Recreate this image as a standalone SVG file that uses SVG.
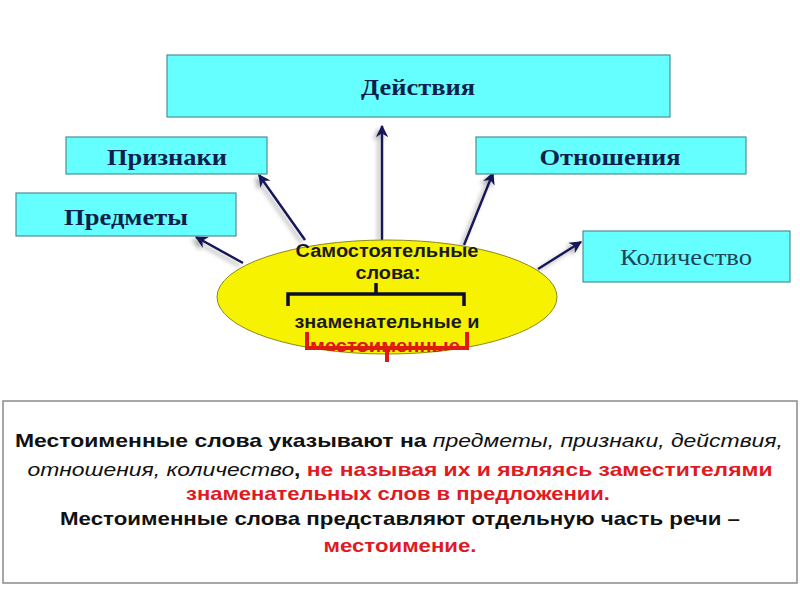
<svg xmlns="http://www.w3.org/2000/svg" width="800" height="600" viewBox="0 0 800 600">
<defs>
<style>
.box{fill:#66ffff;stroke:#4a8f96;stroke-width:1.2}
.lbl{font-family:"Liberation Serif","Times New Roman",serif;font-weight:bold;font-size:24px;fill:#0d1f4d;text-anchor:middle}
.lbl2{font-family:"Liberation Serif","Times New Roman",serif;font-size:23px;fill:#1f4558;text-anchor:middle}
.conn line{stroke:#14145a;stroke-width:2.5;marker-end:url(#ah)}
.et{font-family:"Liberation Sans",Arial,sans-serif;font-weight:bold;font-size:18px;fill:#1a1a1a;text-anchor:middle}
.bt{font-family:"Liberation Sans",Arial,sans-serif;font-weight:bold;font-size:19px;fill:#111;text-anchor:middle}
.red{fill:#e01a22}
.it{font-style:italic;font-weight:normal}
</style>
<marker id="ah" viewBox="0 0 10 10" refX="9" refY="5" markerWidth="5" markerHeight="5" orient="auto" markerUnits="strokeWidth">
<path d="M0,0 L10,5 L0,10 L3,5 Z" fill="#14145a"/>
</marker>
<filter id="sh" x="-50%" y="-50%" width="200%" height="200%">
<feDropShadow dx="-3" dy="3" stdDeviation="2" flood-color="#888" flood-opacity="0.7"/>
</filter>
<clipPath id="ec"><ellipse cx="387" cy="297" rx="170" ry="57"/></clipPath>
</defs>
<rect width="800" height="600" fill="#ffffff"/>

<g id="connectors" class="conn" filter="url(#sh)">
<line x1="382" y1="240" x2="382" y2="126"/>
<line x1="305" y1="240" x2="259" y2="175"/>
<line x1="464" y1="245" x2="493" y2="173"/>
<line x1="243" y1="263" x2="196" y2="237"/>
<line x1="538" y1="269" x2="581" y2="242"/>
</g>

<g id="n-deystviya">
<rect class="box" x="167" y="55" width="503" height="62"/>
<text class="lbl" x="418" y="95" textLength="114" lengthAdjust="spacingAndGlyphs">Действия</text>
</g>
<g id="n-priznaki">
<rect class="box" x="66" y="137" width="201" height="37"/>
<text class="lbl" x="167" y="165" textLength="120" lengthAdjust="spacingAndGlyphs">Признаки</text>
</g>
<g id="n-otnosheniya">
<rect class="box" x="476" y="137" width="270" height="37"/>
<text class="lbl" x="610" y="165" textLength="141" lengthAdjust="spacingAndGlyphs">Отношения</text>
</g>
<g id="n-predmety">
<rect class="box" x="16" y="193" width="220" height="43"/>
<text class="lbl" x="126" y="225" textLength="124" lengthAdjust="spacingAndGlyphs">Предметы</text>
</g>
<g id="n-kolichestvo">
<rect class="box" x="583" y="231" width="207" height="51"/>
<text class="lbl2" x="686" y="265" textLength="132" lengthAdjust="spacingAndGlyphs">Количество</text>
</g>

<g id="n-center">
<ellipse cx="387" cy="297" rx="170" ry="57" fill="#f7f200" stroke="#8c8a1a" stroke-width="1"/>
<text class="et" x="387" y="257" textLength="183" lengthAdjust="spacingAndGlyphs">Самостоятельные</text>
<text class="et" x="388" y="279" textLength="65" lengthAdjust="spacingAndGlyphs">слова:</text>
<path d="M288,306 V294 H464 V306 M376,294 V283" fill="none" stroke="#0d0d2a" stroke-width="3.5"/>
<text class="et" x="387" y="328" textLength="185" lengthAdjust="spacingAndGlyphs">знаменательные и</text>
<text class="et" x="385" y="352" style="fill:#d81a10" textLength="150" lengthAdjust="spacingAndGlyphs" clip-path="url(#ec)">местоименные</text>
<path d="M307,332 V348 H467 V332 M387,348 V362" fill="none" stroke="#e01a10" stroke-width="4"/>
</g>

<g id="n-note">
<rect x="3" y="401" width="794" height="182" fill="#ffffff" stroke="#8a8a8a" stroke-width="1.5"/>
<text class="bt" x="399" y="447" textLength="768" lengthAdjust="spacingAndGlyphs">Местоименные слова указывают на <tspan class="it">предметы, признаки, действия,</tspan></text>
<text class="bt" x="400" y="476" textLength="745" lengthAdjust="spacingAndGlyphs"><tspan class="it">отношения, количество</tspan>, <tspan class="red">не называя их и являясь заместителями</tspan></text>
<text class="bt red" x="398" y="500" textLength="424" lengthAdjust="spacingAndGlyphs">знаменательных слов в предложении.</text>
<text class="bt" x="400" y="525" textLength="680" lengthAdjust="spacingAndGlyphs">Местоименные слова представляют отдельную часть речи –</text>
<text class="bt red" x="400" y="552" textLength="153" lengthAdjust="spacingAndGlyphs">местоимение.</text>
</g>
</svg>
